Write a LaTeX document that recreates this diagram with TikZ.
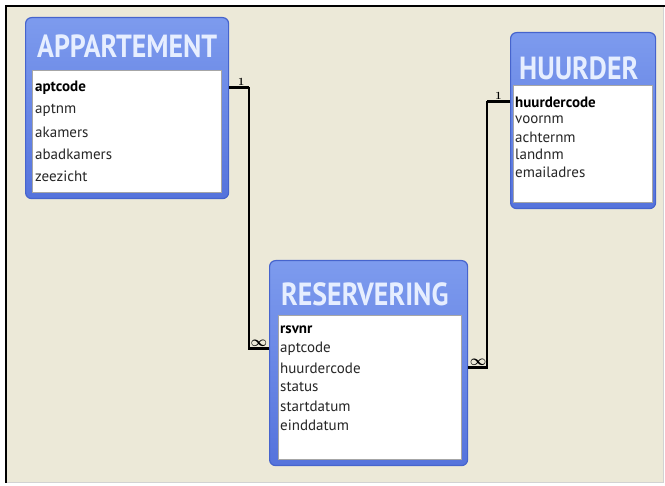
\documentclass[tikz,border=0pt]{standalone}
\usepackage{fontspec}
\usepackage{amsmath}
\setsansfont{PT Sans}
\newfontfamily\kopfont[FakeStretch=0.87]{PT Sans Bold}
\usepackage{tikz}
\usetikzlibrary{calc}
\definecolor{achtergrond}{RGB}{236,233,216}
\definecolor{tabelrand}{RGB}{70,100,205}
\definecolor{tabeltop}{RGB}{125,155,238}
\definecolor{tabelbodem}{RGB}{85,115,220}
\definecolor{kopletter}{RGB}{230,238,255}
\tikzstyle{tabel}    = [draw=tabelrand,line width=1.2pt,rounded corners=6pt,top color=tabeltop,bottom color=tabelbodem,inner sep=0pt,anchor=north west]
\tikzstyle{kop}      = [text=kopletter,font=\kopfont\fontsize{32}{32}\selectfont,inner sep=0pt,anchor=west]
\tikzstyle{lijst}    = [draw=gray!70,fill=white,inner sep=0pt,anchor=north west]
\tikzstyle{veld}     = [font=\sffamily\fontsize{15}{15}\selectfont,text=black!85,inner sep=0pt,anchor=west]
\tikzstyle{sleutel}  = [veld,font=\sffamily\bfseries\fontsize{15}{15}\selectfont,text=black]
\tikzstyle{relatie}  = [line width=1.5pt]
\tikzstyle{uiteinde} = [line width=3pt]
\tikzstyle{een}      = [font=\bfseries\fontsize{11}{11}\selectfont,inner sep=1pt]
\tikzstyle{veel}     = [font=\fontsize{14}{14}\selectfont,inner sep=0pt]

\begin{document}
\begin{tikzpicture}[x=1pt,y=-1pt]
  \useasboundingbox (0,0) rectangle (665,486);
  %achtergrond met rand
  \fill[achtergrond] (7,7) rectangle (663,482);
  \draw[gray!35] (7,482) -- (663,482) -- (663,7);
  \draw[line width=2.5pt] (6,483) -- (6,6) -- (665,6);

  %tabel links
  \node[tabel,minimum width=203,minimum height=181] (app) at (25,17) {};
  \node[kop] (appkop) at (37,46) {APPARTEMENT};
  \node[lijst,minimum width=189,minimum height=122] (applijst) at (32,70) {};
  \node[sleutel] (app1) at (35,88) {aptcode};
  \foreach \veld[count=\i from 2] in {aptnm,akamers,abadkamers,zeezicht}{
    \node[veld] (app\i) at (35,66+\i*22) {\veld};
  }

  %tabel rechts
  \node[tabel,minimum width=145,minimum height=176] (huur) at (510,32) {};
  \node[kop] (huurkop) at (519,68) {HUURDER};
  \node[lijst,minimum width=139,minimum height=117] (huurlijst) at (513,85) {};
  \node[sleutel] (huur1) at (515,102) {huurdercode};
  \foreach \veld[count=\i from 2] in {voornm,achternm,landnm,emailadres}{
    \node[veld] (huur\i) at (515,84.5+\i*17.5) {\veld};
  }

  %tabel midden
  \node[tabel,minimum width=198,minimum height=205] (res) at (269,260) {};
  \node[kop] (reskop) at (281,294) {RESERVERING};
  \node[lijst,minimum width=183,minimum height=144] (reslijst) at (278,315) {};
  \node[sleutel] (res1) at (280,330) {rsvnr};
  \foreach \veld[count=\i from 2] in {aptcode,huurdercode,status,startdatum,einddatum}{
    \node[veld] (res\i) at (280,311+\i*19) {\veld};
  }

  %relaties
  \draw[relatie] (app.east |- app1) -- ++(20,0) |- (res.west |- res2);
  \draw[uiteinde] (app.east |- app1) -- node[een,above,pos=0.6] {1} ++(20,0);
  \draw[uiteinde] (res.west |- res2) -- node[veel,above=1pt] {$\boldsymbol{\infty}$} ++(-20,0);

  \draw[relatie] (huur.west |- huur1) -- ++(-23,0) |- (res.east |- res3);
  \draw[uiteinde] (huur.west |- huur1) -- node[een,above] {1} ++(-23,0);
  \draw[uiteinde] (res.east |- res3) -- node[veel,above=1pt] {$\boldsymbol{\infty}$} ++(20,0);
\end{tikzpicture}
\end{document}
